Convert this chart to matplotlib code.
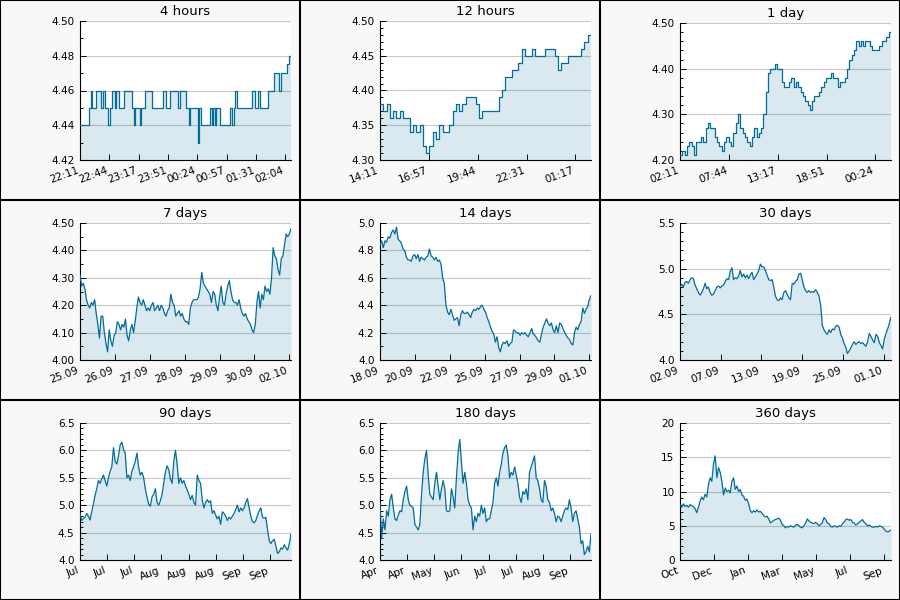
import numpy as np
import matplotlib
matplotlib.use("Agg")
import matplotlib.pyplot as plt
from matplotlib.ticker import FixedLocator, MultipleLocator, AutoMinorLocator, FormatStrFormatter
from matplotlib.lines import Line2D

plt.rcParams['font.family'] = ['DejaVu Sans']

TITLES = ["4 hours", "12 hours", "1 day", "7 days", "14 days", "30 days",
          "90 days", "180 days", "360 days"]
SPAN_H = [4, 12, 24, 168, 336, 720, 2160, 4320, 8640]
TICK_STEP_S = [2000, 10000, 20000, 100000, 200000, 500000, 1000000, 2000000, 5000000]
XLABELS = [
    ["22:11", "22:44", "23:17", "23:51", "00:24", "00:57", "01:31", "02:04"],
    ["14:11", "16:57", "19:44", "22:31", "01:17"],
    ["02:11", "07:44", "13:17", "18:51", "00:24"],
    ["25.09", "26.09", "27.09", "28.09", "29.09", "30.09", "02.10"],
    ["18.09", "20.09", "22.09", "25.09", "27.09", "29.09", "01.10"],
    ["02.09", "07.09", "13.09", "19.09", "25.09", "01.10"],
    ["Jul", "Jul", "Jul", "Aug", "Aug", "Aug", "Sep", "Sep"],
    ["Apr", "Apr", "May", "Jun", "Jul", "Jul", "Aug", "Sep"],
    ["Oct", "Dec", "Jan", "Mar", "May", "Jul", "Sep"],
]
YLIM = [(4.42, 4.50), (4.30, 4.50), (4.20, 4.50), (4.0, 4.5), (4.0, 5.0),
        (4.0, 5.5), (4.0, 6.5), (4.0, 6.5), (0, 20)]
YSTEP = [0.02, 0.05, 0.1, 0.1, 0.2, 0.5, 0.5, 0.5, 5]
YMINOR = [2, 5, 5, 2, 2, 5, 5, 5, 5]
YFMT = ["%.2f", "%.2f", "%.2f", "%.2f", "%.1f", "%.1f", "%.1f", "%.1f", "%d"]

# 4 hours: price changes (minutes from start, price)
H4_MIN = [0, 10.3, 12.2, 13.7, 18.6, 23.9, 26.2, 28.5, 31.6, 33.8, 36.9, 39.5, 41.4,
          44.5, 49.8, 58.6, 61.6, 63.1, 67.7, 69.6, 74.5, 81.4, 94.7, 97.3, 102.3,
          111.8, 113.7, 120.5, 124.0, 125.1, 133.8, 135.4, 138.0, 148.3, 149.8, 151.3,
          153.2, 155.1, 158.9, 170.3, 173.0, 175.3, 176.8, 178.3, 195.8, 198.5, 203.0,
          205.0, 214.4, 220.9, 226.6, 228.5, 235.0, 237.6]
H4_VAL = [4.44, 4.45, 4.46, 4.45, 4.46, 4.45, 4.46, 4.45, 4.44, 4.45, 4.46, 4.45, 4.46,
          4.45, 4.46, 4.45, 4.44, 4.45, 4.44, 4.45, 4.46, 4.45, 4.46, 4.45, 4.46,
          4.45, 4.46, 4.45, 4.44, 4.45, 4.43, 4.45, 4.44, 4.45, 4.44, 4.45,
          4.44, 4.45, 4.44, 4.45, 4.44, 4.45, 4.46, 4.45, 4.46, 4.45, 4.46,
          4.45, 4.46, 4.47, 4.46, 4.47, 4.475, 4.48]

H12 = [4.38, 4.37, 4.38, 4.36, 4.37, 4.36, 4.37, 4.36, 4.36, 4.34, 4.35, 4.34, 4.35,
       4.32, 4.31, 4.32, 4.34, 4.33, 4.35, 4.34, 4.34, 4.35, 4.37, 4.38, 4.37, 4.38,
       4.39, 4.39, 4.39, 4.38, 4.36, 4.37, 4.37, 4.37, 4.37, 4.37, 4.39, 4.40, 4.42,
       4.42, 4.43, 4.43, 4.44, 4.46, 4.45, 4.45, 4.46, 4.45, 4.45, 4.45, 4.46, 4.46,
       4.46, 4.45, 4.43, 4.44, 4.44, 4.45, 4.45, 4.45, 4.45, 4.46, 4.47, 4.48]

D1 = [4.21, 4.22, 4.21, 4.23, 4.24, 4.23, 4.21, 4.24, 4.24, 4.25, 4.24, 4.27, 4.28,
      4.27, 4.27, 4.25, 4.24, 4.23, 4.22, 4.24, 4.25, 4.24, 4.23, 4.26, 4.28, 4.30,
      4.27, 4.26, 4.25, 4.24, 4.23, 4.25, 4.27, 4.25, 4.26, 4.27, 4.30, 4.35, 4.39,
      4.40, 4.40, 4.41, 4.40, 4.40, 4.37, 4.36, 4.36, 4.37, 4.38, 4.36, 4.37, 4.36,
      4.35, 4.34, 4.33, 4.32, 4.31, 4.33, 4.34, 4.34, 4.35, 4.36, 4.37, 4.38, 4.38,
      4.39, 4.38, 4.38, 4.36, 4.37, 4.37, 4.38, 4.40, 4.42, 4.43, 4.44, 4.46, 4.45,
      4.46, 4.45, 4.46, 4.46, 4.45, 4.44, 4.44, 4.44, 4.45, 4.46, 4.46, 4.47, 4.48]

D7 = [4.31, 4.27, 4.28, 4.26, 4.22, 4.20, 4.19, 4.21, 4.20, 4.22, 4.17, 4.13, 4.08,
      4.16, 4.16, 4.10, 4.06, 4.03, 4.11, 4.07, 4.05, 4.09, 4.10, 4.14, 4.13, 4.11,
      4.13, 4.12, 4.15, 4.09, 4.07, 4.11, 4.13, 4.10, 4.14, 4.19, 4.23, 4.21, 4.20,
      4.22, 4.20, 4.18, 4.19, 4.18, 4.20, 4.21, 4.18, 4.19, 4.20, 4.18, 4.20, 4.19,
      4.17, 4.16, 4.18, 4.19, 4.24, 4.21, 4.20, 4.16, 4.17, 4.18, 4.16, 4.17, 4.15,
      4.14, 4.14, 4.13, 4.19, 4.21, 4.22, 4.22, 4.22, 4.23, 4.26, 4.32, 4.28, 4.27,
      4.26, 4.25, 4.24, 4.21, 4.25, 4.24, 4.20, 4.18, 4.23, 4.27, 4.21, 4.20, 4.24,
      4.27, 4.29, 4.25, 4.22, 4.21, 4.21, 4.20, 4.22, 4.19, 4.17, 4.16, 4.17, 4.15,
      4.14, 4.13, 4.11, 4.10, 4.13, 4.21, 4.25, 4.19, 4.24, 4.22, 4.27, 4.25, 4.26,
      4.24, 4.30, 4.41, 4.38, 4.37, 4.33, 4.31, 4.37, 4.38, 4.42, 4.46, 4.45, 4.46,
      4.48]

D14 = [4.84, 4.87, 4.82, 4.87, 4.86, 4.90, 4.89, 4.93, 4.95, 4.92, 4.97, 4.88, 4.87,
       4.85, 4.81, 4.80, 4.75, 4.73, 4.73, 4.72, 4.76, 4.77, 4.74, 4.77, 4.72, 4.75,
       4.74, 4.73, 4.75, 4.76, 4.81, 4.76, 4.75, 4.73, 4.75, 4.72, 4.73, 4.70, 4.60,
       4.56, 4.40, 4.35, 4.33, 4.37, 4.33, 4.29, 4.30, 4.31, 4.25, 4.33, 4.36, 4.34,
       4.34, 4.35, 4.33, 4.31, 4.35, 4.37, 4.36, 4.38, 4.37, 4.39, 4.40, 4.37, 4.35,
       4.31, 4.28, 4.24, 4.21, 4.19, 4.13, 4.17, 4.09, 4.06, 4.11, 4.13, 4.12, 4.14,
       4.10, 4.12, 4.13, 4.22, 4.21, 4.20, 4.20, 4.18, 4.20, 4.19, 4.20, 4.18, 4.17,
       4.20, 4.23, 4.19, 4.18, 4.16, 4.14, 4.13, 4.19, 4.24, 4.27, 4.30, 4.27, 4.25,
       4.27, 4.22, 4.20, 4.25, 4.20, 4.27, 4.26, 4.23, 4.20, 4.18, 4.16, 4.15, 4.12,
       4.11, 4.20, 4.24, 4.22, 4.26, 4.28, 4.38, 4.34, 4.37, 4.39, 4.44, 4.47]

D30 = [4.80, 4.83, 4.80, 4.85, 4.86, 4.84, 4.88, 4.90, 4.89, 4.82, 4.78, 4.74, 4.71,
       4.74, 4.78, 4.84, 4.78, 4.80, 4.74, 4.71, 4.72, 4.76, 4.80, 4.81, 4.79, 4.81,
       4.82, 4.86, 4.89, 4.88, 4.97, 5.01, 4.88, 4.90, 4.89, 4.92, 4.98, 4.91, 4.94,
       4.90, 4.93, 4.89, 4.93, 4.96, 4.88, 4.91, 4.94, 4.98, 5.05, 5.02, 5.02, 4.98,
       4.93, 4.88, 4.87, 4.88, 4.80, 4.70, 4.66, 4.65, 4.68, 4.66, 4.74, 4.76, 4.72,
       4.68, 4.66, 4.84, 4.83, 4.86, 4.88, 4.94, 4.95, 4.88, 4.80, 4.76, 4.74, 4.76,
       4.74, 4.75, 4.74, 4.77, 4.74, 4.70, 4.60, 4.38, 4.33, 4.30, 4.28, 4.33, 4.30,
       4.34, 4.33, 4.37, 4.38, 4.36, 4.28, 4.24, 4.18, 4.14, 4.07, 4.10, 4.13, 4.17,
       4.20, 4.17, 4.19, 4.20, 4.18, 4.19, 4.17, 4.15, 4.20, 4.29, 4.26, 4.22, 4.19,
       4.28, 4.26, 4.19, 4.16, 4.12, 4.23, 4.29, 4.34, 4.40, 4.47]

D90 = [4.85, 4.72, 4.76, 4.78, 4.85, 4.80, 4.73, 4.88, 5.02, 5.18, 5.30, 5.45, 5.40,
       5.48, 5.55, 5.45, 5.35, 5.50, 5.62, 5.70, 6.05, 5.80, 5.75, 5.90, 6.10, 6.15,
       6.02, 5.95, 5.50, 5.55, 5.45, 5.62, 5.70, 5.80, 5.95, 5.70, 5.55, 5.60, 5.50,
       5.30, 5.15, 5.02, 4.98, 5.15, 5.20, 5.30, 5.05, 5.00, 5.08, 5.20, 5.40, 5.60,
       5.72, 5.65, 5.48, 5.40, 5.80, 6.00, 5.75, 5.40, 5.50, 5.40, 5.45, 5.35, 5.28,
       5.20, 5.10, 5.18, 5.05, 5.00, 5.55, 5.45, 5.40, 5.10, 4.95, 5.05, 5.10, 5.05,
       5.08, 4.85, 4.90, 4.82, 4.75, 4.80, 4.65, 4.88, 4.85, 4.80, 4.72, 4.78, 4.75,
       4.80, 4.85, 4.92, 5.00, 4.88, 4.95, 4.90, 4.95, 5.05, 5.12, 4.95, 4.80, 4.70,
       4.68, 4.72, 4.82, 4.90, 4.95, 4.78, 4.76, 4.78, 4.55, 4.35, 4.30, 4.35, 4.38,
       4.25, 4.12, 4.15, 4.22, 4.20, 4.28, 4.22, 4.18, 4.30, 4.48]

D180 = [5.05, 4.40, 4.75, 4.55, 4.90, 4.80, 5.10, 5.20, 4.95, 4.75, 4.72, 4.82, 4.90,
        4.88, 5.10, 5.25, 5.35, 5.10, 5.00, 4.98, 4.95, 4.65, 4.60, 4.55, 4.65, 5.20,
        5.60, 5.85, 6.00, 5.55, 5.20, 5.15, 5.10, 5.40, 5.60, 5.35, 5.10, 5.30, 5.45,
        5.30, 4.90, 4.88, 4.90, 5.30, 5.15, 4.95, 5.50, 5.95, 6.20, 5.80, 5.40, 5.60,
        5.40, 5.10, 5.00, 4.95, 4.55, 4.80, 4.70, 4.85, 4.80, 5.00, 4.85, 4.95, 4.70,
        4.75, 4.75, 4.90, 5.05, 5.40, 5.50, 5.35, 5.60, 5.75, 5.95, 6.05, 6.10, 5.90,
        5.50, 5.60, 5.55, 5.70, 5.55, 5.40, 5.15, 5.05, 5.25, 5.20, 5.30, 5.10, 5.60,
        5.70, 5.80, 5.90, 5.50, 5.45, 5.30, 5.10, 5.05, 5.45, 5.35, 5.10, 5.05, 4.90,
        4.95, 4.85, 4.70, 4.80, 4.78, 4.70, 4.80, 4.90, 4.95, 4.92, 5.10, 4.95, 4.70,
        4.85, 4.90, 4.75, 4.60, 4.30, 4.35, 4.10, 4.15, 4.25, 4.15, 4.48]

D360 = [8.0, 7.7, 8.2, 7.8, 8.0, 7.7, 8.1, 7.9, 7.8, 7.5, 6.9, 7.7, 8.6, 9.2, 8.8, 9.6,
        9.2, 11.0, 12.0, 11.5, 14.0, 15.2, 12.0, 13.5, 12.8, 11.5, 9.5, 10.5, 10.0,
        10.2, 9.8, 11.5, 12.0, 10.3, 10.8, 10.0, 10.3, 9.5, 9.3, 8.7, 8.9, 8.2, 7.2,
        6.9, 7.2, 7.0, 7.3, 7.0, 7.1, 6.8, 6.5, 6.3, 6.4, 6.0, 5.4, 5.6, 5.8, 5.9, 6.0,
        6.1, 5.8, 5.2, 5.0, 4.7, 4.9, 4.8, 5.0, 4.9, 4.8, 5.1, 5.2, 5.0, 4.8, 4.7, 5.0,
        5.4, 6.0, 5.7, 5.5, 5.4, 5.3, 5.5, 5.3, 5.0, 5.2, 5.4, 6.2, 5.9, 5.4, 5.3, 4.9,
        4.8, 5.0, 4.9, 4.8, 5.0, 4.9, 5.3, 5.5, 5.9, 6.0, 5.8, 5.9, 5.5, 5.4, 5.1, 5.3,
        5.5, 5.7, 5.9, 5.5, 5.3, 5.0, 5.1, 4.9, 4.8, 4.8, 4.9, 4.8, 5.0, 4.9, 4.8, 4.5,
        4.2, 4.1, 4.2, 4.4]

SERIES = [None, H12, D1, D7, D14, D30, D90, D180, D360]
STEPPED = [True, True, True, False, False, False, False, False, False]

LINE = "#006d9a"
PANEL_BG = "#f8f8f8"
W, H = 900, 600
PLOT_TOP = [21, 21, 23, 23, 23, 23, 23, 23, 23]

fig = plt.figure(figsize=(9, 6), dpi=100, facecolor=PANEL_BG)

for i in range(9):
    r, c = divmod(i, 3)
    left = c * 300 + 80
    right = c * 300 + 291
    top = r * 200 + PLOT_TOP[i]
    bottom = r * 200 + 160
    ax = fig.add_axes([left / W, 1 - bottom / H, (right - left) / W, (bottom - top) / H])
    ax.set_facecolor("white")
    span = SPAN_H[i]
    if i == 0:
        x = np.array(H4_MIN + [240.0]) / 60.0
        y = np.array(H4_VAL + [H4_VAL[-1]])
    elif STEPPED[i]:
        vals = list(SERIES[i])
        y = np.array(vals + [vals[-1]], dtype=float)
        x = np.linspace(0, span, len(y))
    else:
        y = np.array(SERIES[i], dtype=float)
        x = np.linspace(0, span, len(y))
    y0 = YLIM[i][0]
    if STEPPED[i]:
        ax.plot(x, y, color=LINE, lw=0.9, drawstyle="steps-post", zorder=3)
        ax.fill_between(x, y, y0, step="post", color=LINE, alpha=0.15, lw=0, zorder=2)
    else:
        ax.plot(x, y, color=LINE, lw=0.9, zorder=3)
        ax.fill_between(x, y, y0, color=LINE, alpha=0.15, lw=0, zorder=2)
    ax.set_xlim(0, span)
    ax.set_ylim(*YLIM[i])
    step_h = TICK_STEP_S[i] / 3600.0
    ticks = [k * step_h for k in range(len(XLABELS[i]))]
    ax.xaxis.set_major_locator(FixedLocator(ticks))
    ax.set_xticklabels(XLABELS[i], rotation=20, ha="right")
    ax.yaxis.set_major_locator(MultipleLocator(YSTEP[i]))
    ax.yaxis.set_minor_locator(AutoMinorLocator(YMINOR[i]))
    ax.yaxis.set_major_formatter(FormatStrFormatter(YFMT[i]))
    ax.tick_params(axis="both", which="major", direction="in", length=4.5, width=0.7,
                   labelsize=7.5, colors="black", pad=4)
    ax.tick_params(axis="y", which="minor", direction="in", length=2, width=0.7)
    ax.tick_params(axis="x", which="minor", length=0)
    ax.grid(axis="y", which="major", color="#c8c8c8", lw=0.8)
    ax.set_axisbelow(True)
    for s in ("top", "right"):
        ax.spines[s].set_visible(False)
    for s in ("left", "bottom"):
        ax.spines[s].set_linewidth(0.8)
        ax.spines[s].set_color("black")
    ax.set_title(TITLES[i], fontsize=9.5, pad=4)

# panel borders
lw = 1.5
for xv in (0, 300, 600, 900):
    fig.add_artist(Line2D([xv / W, xv / W], [0, 1], color="black", lw=lw))
for yv in (0, 200, 400, 600):
    fig.add_artist(Line2D([0, 1], [1 - yv / H, 1 - yv / H], color="black", lw=lw))

fig.savefig("out.png", dpi=100, facecolor=PANEL_BG)
